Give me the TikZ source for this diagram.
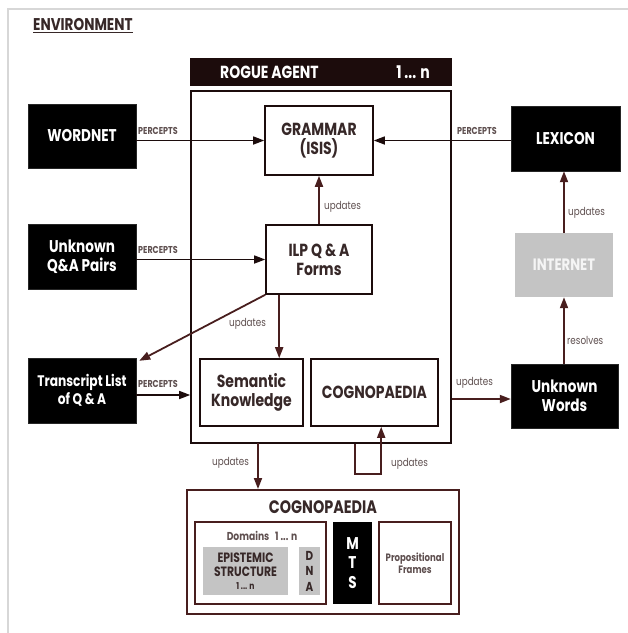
\documentclass[tikz,border=0pt]{standalone}
\usepackage{fontspec}
\setmainfont{Poppins}[FakeStretch=0.8]
\usetikzlibrary{arrows.meta}
\definecolor{brn}{RGB}{72,30,30}
\definecolor{dtxt}{RGB}{55,40,40}
\definecolor{barc}{RGB}{28,12,12}
\definecolor{gbox}{RGB}{196,196,196}
\definecolor{framec}{RGB}{215,215,215}
\definecolor{lbl}{RGB}{95,80,80}
\tikzset{
  blk/.style={fill=black, draw=black!85, text=white, font=\bfseries\fontsize{17}{18.5}\selectfont, align=center, inner sep=0pt},
  wbox/.style={draw=barc, line width=1.6pt, fill=white, text=dtxt, font=\bfseries\fontsize{17.5}{19}\selectfont, align=center, inner sep=0pt},
  bbox/.style={draw=brn, line width=1.8pt, fill=white, inner sep=0pt},
  lab/.style={text=lbl, font=\fontsize{11}{12}\selectfont, inner sep=0pt},
  plab/.style={text=lbl, font=\bfseries\fontsize{10}{11}\selectfont, inner sep=0pt},
  arr/.style={draw=brn, line width=1.8pt, -{Triangle[length=11pt,width=8pt]}},
  arrk/.style={draw=barc, line width=1.5pt, -{Triangle[length=11pt,width=8pt]}},
}
\begin{document}
\begin{tikzpicture}[x=1pt,y=-1pt]
\useasboundingbox (0,0) rectangle (628,633);
\fill[white] (0,0) rectangle (628,633);
% environment frame
\draw[framec, line width=1.4pt] (628,9) -- (8,9) -- (8,633);
\node[anchor=west, text=dtxt, font=\bfseries\fontsize{17}{18}\selectfont, inner sep=0pt] (env) at (33,26) {\underline{ENVIRONMENT}};

% rogue agent
\node[fill=barc, minimum width=262pt, minimum height=28pt, inner sep=0pt] (rogue) at (321,72) {};
\node[anchor=west, text=white, font=\bfseries\fontsize{17.5}{18}\selectfont, inner sep=0pt] (rtitle) at (220,72) {ROGUE AGENT};
\node[text=white, font=\bfseries\fontsize{17.5}{18}\selectfont, inner sep=0pt] (rn) at (413,72) {1 ... n};
\node[draw=barc, line width=1.6pt, minimum width=260pt, minimum height=352pt, inner sep=0pt] (agent) at (321,267) {};

% inner boxes
\node[wbox, minimum width=108pt, minimum height=69pt] (grammar) at (319,140.5) {GRAMMAR\\(ISIS)};
\node[wbox, minimum width=106pt, minimum height=69pt] (ilp) at (319,259.5) {ILP Q \& A\\Forms};
\node[wbox, minimum width=103pt, minimum height=67pt] (sem) at (251.5,392.5) {Semantic\\Knowledge};
\node[wbox, minimum width=127pt, minimum height=67pt] (cogi) at (374.5,392.5) {COGNOPAEDIA};

% environment boxes
\node[blk, minimum width=108pt, minimum height=64pt] (wordnet) at (82,136) {WORDNET};
\node[blk, minimum width=108pt, minimum height=65pt] (unkqa) at (82,256.5) {Unknown\\Q\&A Pairs};
\node[blk, minimum width=108pt, minimum height=65pt, font=\bfseries\fontsize{15.3}{18}\selectfont] (trans) at (82,390.5) {Transcript List\\of Q \& A};
\node[blk, minimum width=109pt, minimum height=65pt] (lexicon) at (565.5,138.5) {LEXICON};
\node[fill=gbox, text=white!92!gray, font=\bfseries\fontsize{16.5}{17}\selectfont, minimum width=98pt, minimum height=64pt, inner sep=0pt] (internet) at (564,265) {INTERNET};
\node[blk, minimum width=107pt, minimum height=64pt] (unkw) at (564.5,396) {Unknown\\Words};

% big cognopaedia
\node[bbox, line width=2pt, minimum width=272pt, minimum height=124pt] (bigc) at (323,552) {};
\node[text=dtxt, font=\bfseries\fontsize{18}{19}\selectfont, inner sep=0pt] (bigct) at (323,507) {COGNOPAEDIA};
\node[bbox, minimum width=131pt, minimum height=82pt] (dom) at (260.5,563) {};
\node[text=lbl, font=\bfseries\fontsize{11.5}{12}\selectfont, inner sep=0pt] (domt) at (262,536) {Domains \ \ 1 ... n};
\node[fill=gbox, text=dtxt, minimum width=85pt, minimum height=48pt, inner sep=0pt, align=center, font=\bfseries\fontsize{13.5}{14}\selectfont] (epi) at (245.5,571) {EPISTEMIC\\STRUCTURE\\[-1pt]{\fontsize{9.5}{10}\selectfont 1 ... n}};
\node[fill=gbox, text=dtxt, minimum width=21pt, minimum height=48pt, inner sep=0pt, align=center, font=\bfseries\fontsize{13}{15.5}\selectfont] (dna) at (309.5,571) {D\\N\\A};
\node[fill=black, text=white, minimum width=39pt, minimum height=82pt, inner sep=0pt, align=center, font=\bfseries\fontsize{17}{19.5}\selectfont] (mts) at (352.5,563) {M\\T\\S};
\node[bbox, minimum width=72pt, minimum height=82pt, align=center, text=lbl, font=\bfseries\fontsize{10.7}{12}\selectfont] (prop) at (415,563) {Propositional\\Frames};

% connectors
\draw[arrk] (wordnet.east |- grammar.west) -- (grammar.west);
\node[plab, anchor=west] (p1) at (138,131) {PERCEPTS};
\draw[arrk] (lexicon.west |- grammar.east) -- (grammar.east);
\node[plab, anchor=west] (p2) at (457,131) {PERCEPTS};
\draw[arrk] (unkqa.east |- ilp.west) -- (ilp.west);
\node[plab, anchor=west] (p3) at (138,250) {PERCEPTS};
\draw[arrk] ([yshift=-4.5pt]trans.east) -- ([yshift=-4.5pt]trans.east -| agent.west);
\node[plab, anchor=west] (p4) at (138,384) {PERCEPTS};

\draw[arr] (ilp.north) -- (grammar.south);
\node[lab, anchor=west] (u1) at (324,207) {updates};
\draw[arr] (ilp.south west) -- ([shift={(3pt,-3pt)}]trans.north east);
\draw[arr] ([xshift=14pt]ilp.south west) -- ([xshift=14pt]ilp.south west |- sem.north);
\node[lab, anchor=west] (u2) at (229,324) {updates};
\draw[arr] (agent.east |- 0,399) -- (unkw.west |- 0,399);
\node[lab, anchor=west] (u3) at (456,383) {updates};
\draw[arr] (unkw.north -| internet.north) -- (internet.south);
\node[lab, anchor=west] (r1) at (567,340) {resolves};
\draw[arr] (internet.north) -- (internet.north |- lexicon.south);
\node[lab, anchor=west] (u4) at (568,213) {updates};
\draw[arr] (258,443) coordinate (a1) -- (a1 |- bigc.north);
\node[lab, anchor=west] (u5) at (212,463) {updates};
\draw[arr] ([xshift=45pt]cogi.south west |- agent.south) -- ++(0,30) -| ([xshift=71pt]cogi.south west);
\node[lab, anchor=west] (u6) at (391,464) {updates};
\end{tikzpicture}
\end{document}
